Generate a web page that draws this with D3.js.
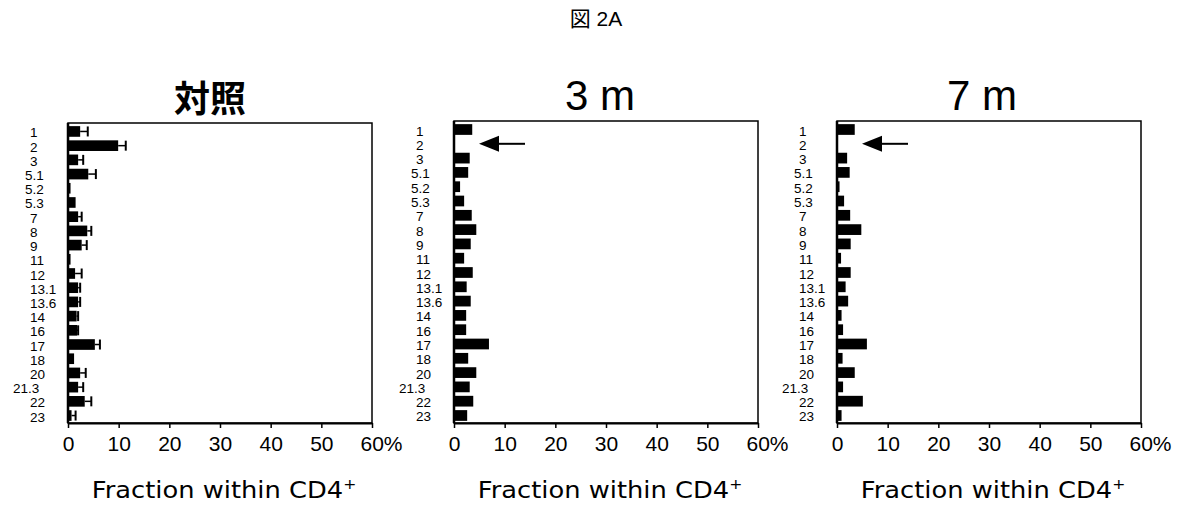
<!DOCTYPE html>
<html><head><meta charset="utf-8">
<script src="https://cdn.jsdelivr.net/npm/d3@7"></script>
<style>body{margin:0;background:#fff}svg{display:block}</style>
</head><body>
<script>
const categories = ["1","2","3","5.1","5.2","5.3","7","8","9","11","12","13.1","13.6","14","16","17","18","20","21.3","22","23"];
const panelTitles = ["対照","3 m","7 m"];
const controlValues = [2.4,9.9,2.0,4.0,0.5,1.5,2.0,3.8,2.7,0.5,1.4,2.0,2.0,1.7,1.8,5.3,1.2,2.4,2.0,3.3,0.7];
const controlErrorEnds = [3.9,11.4,3.0,5.5,null,null,2.7,4.6,3.7,null,2.7,2.4,2.4,2.0,2.0,6.3,null,3.5,3.0,4.6,1.5];
const m3Values = [3.6,0,3.1,2.8,1.2,2.0,3.5,4.4,3.3,2.0,3.7,2.5,3.3,2.4,2.4,6.9,2.8,4.4,3.1,3.8,2.6];
const m7Values = [3.5,0,2.0,2.5,0.5,1.4,2.6,4.8,2.7,0.8,2.7,1.7,2.2,0.9,1.2,5.9,1.1,3.5,1.2,5.1,0.9];
const xTicks = [0,10,20,30,40,50,60];
const arrowCategory = "2";

const W = 1199, H = 508;
const svg = d3.select("body").append("svg").attr("width", W).attr("height", H);

svg.append("text").attr("x", 596).attr("y", 26).attr("text-anchor","middle")
  .attr("font-family","Liberation Sans, Noto Sans CJK JP, sans-serif").attr("font-size",21)
  .text("図 2A");

const panels = [
  {left:68, top:123, title:panelTitles[0], values:controlValues, errs:controlErrorEnds, arrow:false, tx:210},
  {left:454, top:121, title:panelTitles[1], values:m3Values, errs:null, arrow:true, tx:600},
  {left:837, top:121, title:panelTitles[2], values:m7Values, errs:null, arrow:true, tx:982}
];
const pw = 304, bottom = 423;

panels.forEach(p => {
  const g = svg.append("g");
  const x = d3.scaleLinear().domain([0,60]).range([p.left, p.left+pw]);
  const y = d3.scaleBand().domain(categories).range([p.top+1, bottom]).paddingInner(0.25).paddingOuter(0.15);

  if (p.title === "対照") {
    g.append("text").attr("x", p.tx).attr("y", 112).attr("text-anchor","middle")
      .attr("font-family","Noto Sans CJK JP, sans-serif").attr("font-weight",700)
      .attr("font-size",36).text(p.title);
  } else {
    g.append("text").attr("x", p.tx).attr("y", 110).attr("text-anchor","middle")
      .attr("font-family","Liberation Sans, Arial, sans-serif")
      .attr("font-size",42).text(p.title);
  }

  g.append("rect").attr("x", p.left).attr("y", p.top).attr("width", pw).attr("height", bottom-p.top)
    .attr("fill","none").attr("stroke","#000").attr("stroke-width",1.5);
  g.append("line").attr("x1",p.left).attr("x2",p.left).attr("y1",p.top).attr("y2",bottom)
    .attr("stroke","#000").attr("stroke-width",2.5);

  g.selectAll("rect.bar").data(categories).enter().append("rect").attr("class","bar")
    .attr("x", x(0)).attr("y", d => y(d))
    .attr("width", (d,i) => x(p.values[i]) - x(0))
    .attr("height", y.bandwidth()).attr("fill","#000");

  if (p.errs) {
    categories.forEach((c,i) => {
      const e = p.errs[i];
      if (e == null) return;
      const cy = y(c) + y.bandwidth()/2;
      g.append("line").attr("x1", x(p.values[i])).attr("x2", x(e)).attr("y1", cy).attr("y2", cy)
        .attr("stroke","#000").attr("stroke-width",1.5);
      g.append("line").attr("x1", x(e)).attr("x2", x(e)).attr("y1", cy-5).attr("y2", cy+5)
        .attr("stroke","#000").attr("stroke-width",2);
    });
  }

  g.selectAll("text.ylab").data(categories).enter().append("text").attr("class","ylab")
    .attr("x", d => d === "21.3" ? p.left-55 : (d.startsWith("5.") ? p.left-43 : p.left-38))
    .attr("y", d => y(d) + y.bandwidth()/2 + 6)
    .attr("font-family","Liberation Sans, Arial, sans-serif").attr("font-size",13.5)
    .text(d => d);

  const ax = g.append("g").attr("transform", `translate(0,${bottom})`)
    .call(d3.axisBottom(x).tickValues(xTicks).tickSize(5).tickSizeOuter(0).tickPadding(8)
      .tickFormat(d => d === 60 ? "60%" : d));
  ax.select(".domain").attr("stroke-width",2);
  ax.selectAll(".tick line").attr("stroke-width",1.5);
  ax.selectAll(".tick text").attr("font-family","Liberation Sans, Arial, sans-serif")
    .attr("font-size",21).attr("fill","#000");
  ax.selectAll(".tick text").filter(d => d === 60).attr("text-anchor","start").attr("x",-12);

  const t = g.append("text")
    .attr("transform", `translate(${p.left + pw/2 + 4},498) scale(1.12,1)`)
    .attr("text-anchor","middle")
    .attr("font-family","DejaVu Sans, sans-serif").attr("font-size",23);
  t.append("tspan").text("Fraction within CD4");
  t.append("tspan").attr("font-size",14).attr("dy",-9).text("+");

  if (p.arrow) {
    const cy = y(arrowCategory) + y.bandwidth()/2;
    const tip = x(0) + 25;
    g.append("line").attr("x1", tip+18).attr("x2", tip+46).attr("y1", cy).attr("y2", cy)
      .attr("stroke","#000").attr("stroke-width",2);
    g.append("path").attr("d", `M${tip},${cy} L${tip+20},${cy-8} L${tip+20},${cy+8} Z`).attr("fill","#000");
  }
});
</script>
</body></html>
